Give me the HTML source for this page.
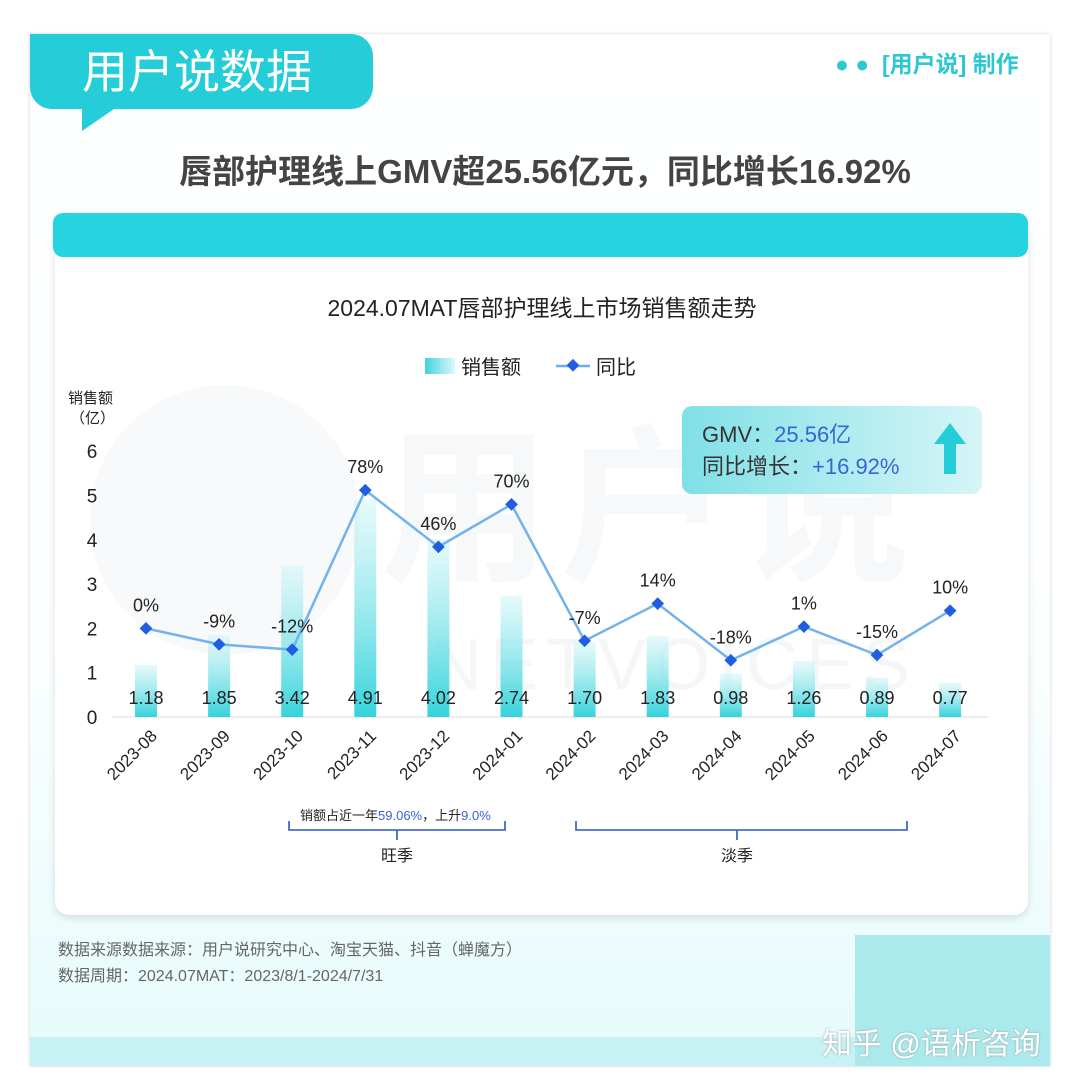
<!DOCTYPE html>
<html><head><meta charset="utf-8">
<style>
body{margin:0;width:1080px;height:1091px;background:#fff;overflow:hidden;font-family:"Liberation Sans","Noto Sans CJK SC",sans-serif;position:relative}
.abs{position:absolute}
</style></head>
<body>
<div class="abs" style="left:30px;top:34px;width:1020px;height:1032px;background:linear-gradient(#fff 0%,#fbfeff 60%,#e6fbfb 100%);box-shadow:0 0 3px #ccc"></div>
<div class="abs" style="left:30px;top:1037px;width:1020px;height:29px;background:#c6f2f3"></div>
<div class="abs" style="left:855px;top:935px;width:195px;height:131px;background:#aaeaed"></div>
<div class="abs" style="left:30px;top:34px;width:343px;height:75px;background:#25cdd8;border-radius:0 22px 22px 22px"></div>
<div class="abs" style="left:82px;top:105px;width:0;height:0;border-right:38px solid transparent;border-top:26px solid #25cdd8"></div>
<div class="abs" style="left:82px;top:42px;font-size:46px;color:#fff;line-height:60px">用户说数据</div>
<div class="abs" style="left:835px;top:49px;font-size:23px;color:#2ec8d2;font-weight:bold;line-height:30px">●&nbsp;●&nbsp;&nbsp;[用户说] 制作</div>
<div class="abs" style="left:0;width:1090px;top:149px;text-align:center;font-size:33px;color:#444;font-weight:bold;line-height:46px">唇部护理线上GMV超25.56亿元，同比增长16.92%</div>
<div class="abs" style="left:55px;top:213px;width:973px;height:702px;background:#fff;border-radius:14px;box-shadow:0 3px 8px rgba(0,0,0,.12)"></div>
<div class="abs" style="left:53px;top:213px;width:975px;height:44px;background:#25d4de;border-radius:10px"></div>
<div class="abs" style="left:0;width:1084px;top:292px;text-align:center;font-size:23px;color:#222;line-height:32px">2024.07MAT唇部护理线上市场销售额走势</div>
<div class="abs" style="left:380px;top:410px;font-size:170px;color:#f6f8fa;font-weight:bold;line-height:200px;letter-spacing:10px">用户说</div>
<div class="abs" style="left:430px;top:625px;font-size:72px;color:#f4f6f8;line-height:80px;letter-spacing:8px">NETVOICES</div>
<div class="abs" style="left:90px;top:385px;width:270px;height:270px;border-radius:50%;background:#f7f9fb"></div>

<svg class="abs" style="left:0;top:0" width="1080" height="1091">
<defs><linearGradient id="bg" x1="0" y1="0" x2="0" y2="1"><stop offset="0" stop-color="#d6f6f8" stop-opacity="0.6"/><stop offset="1" stop-color="#35d3dc"/></linearGradient>
<linearGradient id="lg" x1="0" y1="0" x2="1" y2="0"><stop offset="0" stop-color="#3fd4dc"/><stop offset="1" stop-color="#e0f8fa"/></linearGradient>
<linearGradient id="gb" x1="0" y1="0" x2="1" y2="0"><stop offset="0" stop-color="#80e0e6"/><stop offset="1" stop-color="#d6f5f7"/></linearGradient></defs>
<g id="legend">
<rect x="425" y="358" width="30" height="16" fill="url(#lg)"/>
<text x="461" y="374" font-size="20" fill="#222">销售额</text>
<line x1="556" y1="366" x2="590" y2="366" stroke="#6aaeee" stroke-width="2.5"/>
<rect x="568" y="361" width="9" height="9" fill="#1f5ee0" transform="rotate(45 573 366)"/>
<text x="596" y="374" font-size="20" fill="#222">同比</text>
</g>
<text x="68" y="403" font-size="15" fill="#222">销售额</text>
<text x="70" y="423" font-size="15" fill="#222">（亿）</text>
<g id="plot"></g>
<g fill="none" stroke="#2c56c9" stroke-width="1.6">
<path d="M289 821 V830 H505 V821 M397 830 V840"/>
<path d="M576 821 V830 H907 V821 M737 830 V840"/></g>
<text x="300" y="820" font-size="13" fill="#222">销额占近一年<tspan fill="#3a63d6">59.06%</tspan>，上升<tspan fill="#3a63d6">9.0%</tspan></text>
<text x="397" y="861" font-size="16" fill="#222" text-anchor="middle">旺季</text>
<text x="737" y="861" font-size="16" fill="#222" text-anchor="middle">淡季</text>
<g>
<rect x="682" y="406" width="300" height="88" rx="10" fill="url(#gb)"/>
<text x="702" y="442" font-size="22" fill="#333">GMV：<tspan fill="#3a63d6">25.56亿</tspan></text>
<text x="702" y="474" font-size="22" fill="#333">同比增长：<tspan fill="#3a63d6">+16.92%</tspan></text>
<path d="M950 423 L966 444 H956 V474 H944 V444 H934 Z" fill="#25cdd8"/>
</g>
</svg>
<div class="abs" style="left:58px;top:938px;font-size:16px;color:#666;line-height:26px">数据来源数据来源：用户说研究中心、淘宝天猫、抖音（蝉魔方）<br>数据周期：2024.07MAT：2023/8/1-2024/7/31</div>
<div class="abs" style="left:822px;top:1025px;font-size:30px;color:#fff;line-height:40px;text-shadow:0 0 2px #999">知乎 @语析咨询</div>

<script>
const categories=["2023-08","2023-09","2023-10","2023-11","2023-12","2024-01","2024-02","2024-03","2024-04","2024-05","2024-06","2024-07"];
const sales=[1.18,1.85,3.42,4.91,4.02,2.74,1.70,1.83,0.98,1.26,0.89,0.77];
const yoy=[0,-9,-12,78,46,70,-7,14,-18,1,-15,10];
const yTicks=[0,1,2,3,4,5,6];
const NS="http://www.w3.org/2000/svg";
const g=document.getElementById('plot');
const x0=146,step=73.1,y0=717,unit=44.3;
function xs(i){return x0+i*step;}
function ys(v){return y0-v*unit;}
function yy(p){return ys(2+p/25);}
function mk(t,a){const e=document.createElementNS(NS,t);for(const k in a)e.setAttribute(k,a[k]);g.appendChild(e);return e;}
yTicks.forEach(t=>{const e=mk('text',{x:92,y:ys(t)+7,'font-size':19,fill:'#222','text-anchor':'middle'});e.textContent=t;

});
const ax=mk('line',{x1:112,y1:y0,x2:988,y2:y0,stroke:'#ddd','stroke-width':1});


sales.forEach((v,i)=>{const b=mk('rect',{x:xs(i)-11,y:ys(v),width:22,height:v*unit,fill:'url(#bg)'});

});
let d=yoy.map((p,i)=>(i?'L':'M')+xs(i)+' '+yy(p)).join(' ');
const ln=mk('path',{d:d,fill:'none',stroke:'#72b3ee','stroke-width':2.5});


yoy.forEach((p,i)=>{const m=mk('rect',{x:xs(i)-4.5,y:yy(p)-4.5,width:9,height:9,fill:'#1f5ee0',transform:`rotate(45 ${xs(i)} ${yy(p)})`});


const t=mk('text',{x:xs(i),y:yy(p)-17,'font-size':18,fill:'#222','text-anchor':'middle'});t.textContent=p+'%';

});
sales.forEach((v,i)=>{const t=mk('text',{x:xs(i),y:704,'font-size':18,fill:'#222','text-anchor':'middle'});t.textContent=v.toFixed(2);


const c=mk('text',{x:xs(i)+12,y:737,'font-size':17,fill:'#222','text-anchor':'end',transform:`rotate(-45 ${xs(i)+12} 737)`});c.textContent=categories[i];

});
</script>
</body></html>
